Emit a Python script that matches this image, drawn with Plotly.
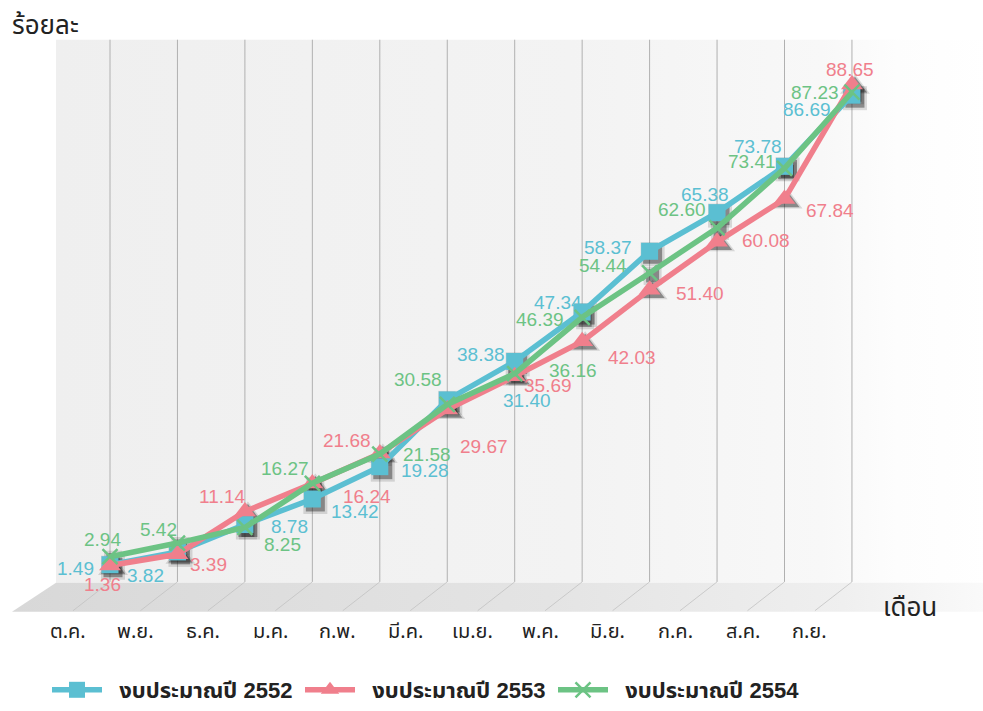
import plotly.graph_objects as go

# ---------------- data ----------------
months = ["ต.ค.", "พ.ย.", "ธ.ค.", "ม.ค.", "ก.พ.", "มี.ค.", "เม.ย.", "พ.ค.", "มิ.ย.", "ก.ค.", "ส.ค.", "ก.ย."]
budget_2552 = [1.49, 3.82, 8.78, 13.42, 19.28, 31.40, 38.38, 47.34, 58.37, 65.38, 73.78, 86.69]
budget_2553 = [1.36, 3.39, 11.14, 16.24, 21.68, 29.67, 35.69, 42.03, 51.40, 60.08, 67.84, 88.65]
budget_2554 = [2.94, 5.42, 8.25, 16.27, 21.58, 30.58, 36.16, 46.39, 54.44, 62.60, 73.41, 87.23]
series_names = ["งบประมาณปี 2552", "งบประมาณปี 2553", "งบประมาณปี 2554"]
y_title = "ร้อยละ"
x_title = "เดือน"

# ---------------- style ----------------
colors = ["#5bbfd2", "#f07f8c", "#6cc384"]
symbols = ["square", "triangle-up", "x-thin"]
msizes = [17, 19, 15]
# label offsets in screen pixels (dx right, dy down)
off_2552 = [(-35, 4), (-32, 24), (45, 2), (43, 13), (45, 4), (80, 1), (-34, -7), (-24, -10), (-42, -4), (-12, -18), (-27, -20), (-45, 14)]
off_2553 = [(-8, 19), (31, 10), (-22, -15), (55, 13), (-33, -13), (37, 37), (33, 9), (50, 16), (50, 4), (49, -1), (45, 11), (-2, -15)]
off_2554 = [(-8, -17), (-19, -14), (38, 17), (-27, -15), (47, 0), (-29, -25), (58, -3), (-42, 2), (-47, -7), (-35, -18), (-33, -7), (-37, 0)]

W, H = 983, 711
X0, DX = 110, 67.45    # pixel x of first category, pixels per category
Y0, SY = 577, 5.55     # pixel y of value 0, pixels per unit
xr = [(-X0) / DX, (W - X0) / DX]
yr = [(Y0 - H) / SY, Y0 / SY]

def px2x(px):
    return (px - X0) / DX

def py2y(py):
    return (Y0 - py) / SY

def pxp(px):
    return px / W

def pyp(py):
    return 1 - py / H

n = len(months)
idx = list(range(n))
fig = go.Figure()

# back wall (gradient)
wall_l, wall_r, wall_t, wall_b = 56, 990, 40, 587
fig.add_trace(go.Scatter(
    x=[px2x(wall_l), px2x(wall_r), px2x(wall_r), px2x(wall_l), px2x(wall_l)],
    y=[py2y(wall_t), py2y(wall_t), py2y(wall_b), py2y(wall_b), py2y(wall_t)],
    mode="lines", line=dict(width=0), fill="toself",
    fillgradient=dict(type="horizontal",
                      colorscale=[[0, "#efefef"], [0.55, "#f3f3f3"], [0.82, "#f8f8f8"], [0.9, "#fdfdfd"], [1, "#ffffff"]]),
    showlegend=False, hoverinfo="skip", xaxis="x", yaxis="y"))
# floor
fl_t, fl_b = 587, 616
fig.add_trace(go.Scatter(
    x=[px2x(56), px2x(990), px2x(990), px2x(12), px2x(56)],
    y=[py2y(fl_t), py2y(fl_t), py2y(fl_b), py2y(fl_b), py2y(fl_t)],
    mode="lines", line=dict(width=0), fill="toself",
    fillgradient=dict(type="horizontal",
                      colorscale=[[0, "#d8d8d8"], [0.55, "#e4e4e4"], [0.85, "#efefef"], [1, "#fafafa"]]),
    showlegend=False, hoverinfo="skip", xaxis="x", yaxis="y"))
# vertical grid lines + floor diagonals
gx, gy, dxs, dys = [], [], [], []
for i in idx:
    gx += [i, i, None]
    gy += [py2y(40), py2y(586), None]
    dxs += [i, i - 37 / DX, None]
    dys += [py2y(586), py2y(615), None]
fig.add_trace(go.Scatter(x=gx, y=gy, mode="lines", line=dict(color="#b0b0b0", width=1),
                         showlegend=False, hoverinfo="skip", xaxis="x", yaxis="y"))
fig.add_trace(go.Scatter(x=dxs, y=dys, mode="lines", line=dict(color="#c2c2c2", width=0.8),
                         showlegend=False, hoverinfo="skip", xaxis="x", yaxis="y"))

all_series = [budget_2552, budget_2553, budget_2554]
all_offs = [off_2552, off_2553, off_2554]

# soft shadows (on shifted overlay axes): a wide faint layer and a tight darker one
for grow, alpha in [(7, 0.14), (2, 0.4)]:
    for s, vals in enumerate(all_series):
        base = msizes[s] if s < 2 else 11
        fig.add_trace(go.Scatter(
            x=months, y=vals, mode="markers",
            marker=dict(symbol=symbols[s] if s < 2 else "square", size=base + grow,
                        color=f"rgba(20,20,20,{alpha})", line=dict(width=0)),
            showlegend=False, hoverinfo="skip", xaxis="x2", yaxis="y2"))

# data series
for s, vals in enumerate(all_series):
    mk = dict(symbol=symbols[s], size=msizes[s], color=colors[s])
    if symbols[s] == "x-thin":
        mk["line"] = dict(color=colors[s], width=2.5)
    else:
        mk["line"] = dict(width=0)
    fig.add_trace(go.Scatter(
        x=months, y=vals, mode="lines+markers", name="\u00a0\u00a0" + series_names[s],
        line=dict(color=colors[s], width=5.5), marker=mk,
        xaxis="x3", yaxis="y3"))

annotations = []
for s, vals in enumerate(all_series):
    for i, v in enumerate(vals):
        ox, oy = all_offs[s][i]
        annotations.append(dict(
            x=i, y=v, xref="x3", yref="y3", text=f"{v:.2f}", showarrow=False,
            xshift=ox, yshift=-oy,
            font=dict(family="Liberation Sans, Arial", size=19, color=colors[s])))
for i, m in enumerate(months):
    annotations.append(dict(
        x=i, y=pyp(636), xref="x3", yref="paper", text=m, showarrow=False,
        xshift=-42, yanchor="middle",
        font=dict(family="Noto Sans Thai, Noto Sans, DejaVu Sans", size=20, color="#222222")))
annotations.append(dict(x=pxp(10), y=pyp(26), xref="paper", yref="paper", text=y_title,
                        showarrow=False, xanchor="left", yanchor="middle",
                        font=dict(family="Noto Sans Thai, Noto Sans, DejaVu Sans", size=26, color="#222222")))
annotations.append(dict(x=pxp(910), y=pyp(612), xref="paper", yref="paper", text=x_title,
                        showarrow=False, xanchor="center", yanchor="middle",
                        font=dict(family="Noto Sans Thai, Noto Sans, DejaVu Sans", size=26, color="#222222")))

hidden = dict(visible=False, showgrid=False, zeroline=False, fixedrange=True)
sx = 3 / DX
sy = 3 / SY
fig.update_layout(
    width=W, height=H, margin=dict(l=0, r=0, t=0, b=0),
    paper_bgcolor="white", plot_bgcolor="rgba(0,0,0,0)",
    xaxis=dict(type="linear", range=xr, **hidden),
    yaxis=dict(type="linear", range=yr, **hidden),
    xaxis2=dict(type="category", categoryarray=months, overlaying="x", range=[xr[0] - sx, xr[1] - sx], **hidden),
    yaxis2=dict(type="linear", overlaying="y", range=[yr[0] + sy, yr[1] + sy], **hidden),
    xaxis3=dict(type="category", categoryarray=months, overlaying="x", range=xr, **hidden),
    yaxis3=dict(type="linear", overlaying="y", range=yr, **hidden),
    annotations=annotations,
    showlegend=True,
    legend=dict(orientation="h", x=pxp(47), y=pyp(695), xanchor="left", yanchor="middle",
                entrywidth=188, entrywidthmode="pixels", itemwidth=50,
                font=dict(family="Liberation Sans Narrow, Liberation Sans, Noto Sans Thai", size=22,
                          color="#222222", weight="bold"),
                bgcolor="rgba(0,0,0,0)", traceorder="normal"),
)

fig.write_html(
    "out.html",
    config={"displayModeBar": False},
    post_script="document.body.style.margin='0';document.documentElement.style.overflow='hidden';document.body.style.overflow='hidden';",
)
